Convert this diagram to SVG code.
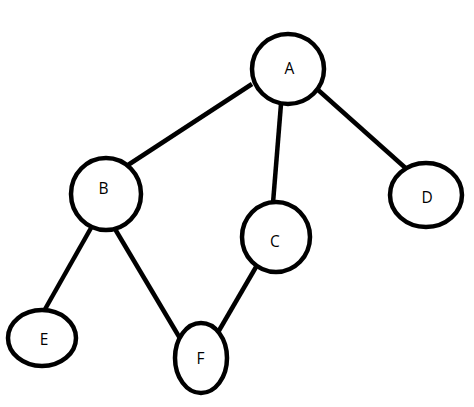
<svg xmlns="http://www.w3.org/2000/svg" width="474" height="407" viewBox="0 0 474 407">
<style>
.n{fill:#fff;stroke:#000;stroke-width:4.5}
.e{stroke:#000;stroke-width:4.5;stroke-linecap:butt}
.t{font-family:"Open Sans","Liberation Sans",sans-serif;font-size:15.5px;fill:#000;text-anchor:middle}
</style>
<rect width="474" height="407" fill="#fff"/>
<g id="edges">
<line class="e" x1="252" y1="84" x2="128" y2="165"/>
<line class="e" x1="281" y1="104" x2="273" y2="203"/>
<line class="e" x1="317" y1="89" x2="410" y2="172"/>
<line class="e" x1="91" y1="228" x2="44" y2="311"/>
<line class="e" x1="115" y1="229" x2="181" y2="340"/>
<line class="e" x1="256" y1="267" x2="217" y2="334"/>
</g>
<g id="A"><ellipse class="n" cx="288" cy="69" rx="36" ry="35"/><text class="t" x="289.5" y="73.5">A</text></g>
<g id="B"><ellipse class="n" cx="106" cy="194" rx="35" ry="36"/><text class="t" x="103.5" y="193.5">B</text></g>
<g id="C"><ellipse class="n" cx="276" cy="237" rx="34" ry="35"/><text class="t" x="275" y="247">C</text></g>
<g id="D"><ellipse class="n" cx="426" cy="195" rx="36" ry="32"/><text class="t" x="427" y="203">D</text></g>
<g id="E"><ellipse class="n" cx="42" cy="338" rx="34" ry="28"/><text class="t" x="44" y="345">E</text></g>
<g id="F"><ellipse class="n" cx="201" cy="358" rx="26" ry="35"/><text class="t" x="200.5" y="364">F</text></g>
</svg>
